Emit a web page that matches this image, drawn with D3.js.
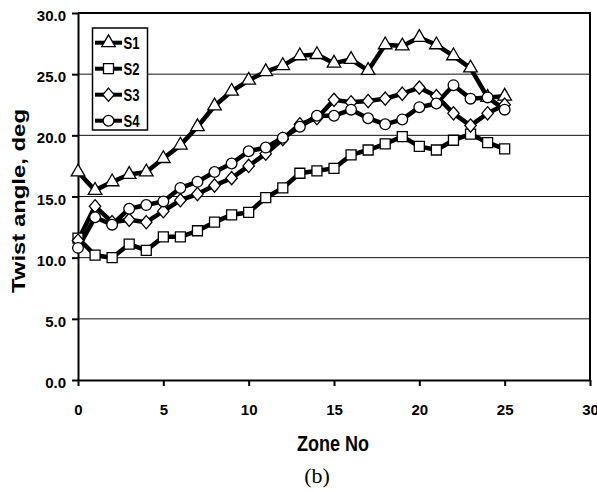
<!DOCTYPE html>
<html>
<head>
<meta charset="utf-8">
<script src="https://cdn.jsdelivr.net/npm/d3@7"></script>
<style>
  body { margin:0; background:#fff; }
  svg { display:block; font-family:"Liberation Sans", Arial, sans-serif; }
</style>
</head>
<body>
<svg id="chart" width="597" height="492"></svg>
<script>
// zone numbers along x
const zones = [0,1,2,3,4,5,6,7,8,9,10,11,12,13,14,15,16,17,18,19,20,21,22,23,24,25];
// twist angle per series (deg)
const s1 = [17.0,15.5,16.2,16.8,17.0,18.1,19.2,20.7,22.4,23.6,24.5,25.2,25.7,26.5,26.6,25.9,26.2,25.3,27.4,27.3,28.0,27.4,26.5,25.5,23.1,23.2];
const s2 = [11.6,10.2,10.0,11.1,10.6,11.7,11.7,12.2,12.9,13.5,13.7,14.9,15.7,16.9,17.1,17.3,18.4,18.8,19.3,19.9,19.1,18.8,19.6,20.1,19.4,18.9];
const s3 = [11.4,14.2,12.9,13.1,12.9,13.8,14.7,15.2,15.9,16.5,17.5,18.5,19.7,20.9,21.4,22.9,22.7,22.8,23.0,23.4,23.9,23.2,21.8,20.8,21.8,22.5];
const s4 = [10.8,13.3,12.7,14.0,14.3,14.6,15.7,16.2,17.0,17.7,18.7,19.0,19.8,20.7,21.6,21.6,22.1,21.4,20.9,21.3,22.3,22.6,24.1,23.0,23.1,22.1];
const seriesNames = ['S1','S2','S3','S4'];
const xTicks = [0,5,10,15,20,25,30];
const yTicks = [0,5,10,15,20,25,30];

// fatter diamond than d3's default
const fatDiamond = {
  draw(ctx, size) {
    const w = Math.sqrt(size) * 0.6, h = Math.sqrt(size) * 0.7;
    ctx.moveTo(0, -h); ctx.lineTo(w, 0); ctx.lineTo(0, h); ctx.lineTo(-w, 0); ctx.closePath();
  }
};

const series = [
  { name: seriesNames[0], values: s1, symbol: d3.symbolTriangle, size: 80 },
  { name: seriesNames[1], values: s2, symbol: d3.symbolSquare, size: 100 },
  { name: seriesNames[2], values: s3, symbol: fatDiamond, size: 90 },
  { name: seriesNames[3], values: s4, symbol: d3.symbolCircle, size: 90 }
];

const svg = d3.select('#chart');
const x = d3.scaleLinear().domain([0,30]).range([78,590]);
const y = d3.scaleLinear().domain([0,30]).range([380,13]);

// gridlines
svg.append('g').selectAll('line').data(yTicks.filter(d => d > 0 && d < 30)).join('line')
  .attr('x1', x(0)).attr('x2', x(30))
  .attr('y1', d => y(d)).attr('y2', d => y(d))
  .attr('stroke', '#111').attr('stroke-width', 1);

// plot border (top + right)
svg.append('path')
  .attr('d', `M${x(0)},${y(30)}H${x(30)}V${y(0)}`)
  .attr('fill', 'none').attr('stroke', '#000').attr('stroke-width', 2);

// axes
const xAxis = svg.append('g').attr('transform', `translate(0,${y(0)})`)
  .call(d3.axisBottom(x).tickValues(xTicks).tickSize(6).tickSizeOuter(0).tickPadding(18));
const yAxis = svg.append('g').attr('transform', `translate(${x(0)},0)`)
  .call(d3.axisLeft(y).tickValues(yTicks).tickSize(6).tickSizeOuter(0).tickPadding(6).tickFormat(d3.format('.1f')));
[xAxis, yAxis].forEach(a => {
  a.select('.domain').attr('stroke-width', 2);
  a.selectAll('.tick line').attr('stroke-width', 2);
  a.selectAll('text').attr('font-size', 15).attr('font-weight', 'bold')
    .attr('font-family', '"Liberation Sans", Arial, sans-serif').attr('fill', '#000');
});
yAxis.selectAll('text').attr('dy', null).attr('y', 7.5);

// series lines + markers
const line = d3.line().x((d, i) => x(zones[i])).y(d => y(d));
series.forEach(s => {
  svg.append('path').datum(s.values)
    .attr('d', line).attr('fill', 'none')
    .attr('stroke', '#000').attr('stroke-width', 4.5).attr('stroke-linejoin', 'round');
});
series.forEach(s => {
  svg.append('g').selectAll('path').data(s.values).join('path')
    .attr('d', d3.symbol(s.symbol, s.size))
    .attr('transform', (d, i) => `translate(${x(zones[i])},${y(d)})`)
    .attr('fill', '#fff').attr('stroke', '#000').attr('stroke-width', 1.3);
});

// legend
const lg = svg.append('g');
lg.append('rect').attr('x', 92.5).attr('y', 28).attr('width', 55).attr('height', 102)
  .attr('fill', '#fff').attr('stroke', '#000').attr('stroke-width', 1.5);
series.forEach((s, i) => {
  const ly = 42.7 + i * 26;
  lg.append('line').attr('x1', 95).attr('x2', 122).attr('y1', ly).attr('y2', ly)
    .attr('stroke', '#000').attr('stroke-width', 4);
  lg.append('path').attr('d', d3.symbol(s.symbol, s.size)())
    .attr('transform', `translate(108.5,${ly})`)
    .attr('fill', '#fff').attr('stroke', '#000').attr('stroke-width', 1.3);
  lg.append('text').attr('x', 123.5).attr('y', ly + 6)
    .attr('font-size', 16).attr('font-weight', 'bold')
    .attr('textLength', 16).attr('lengthAdjust', 'spacingAndGlyphs')
    .text(s.name);
});

// axis titles
svg.append('text').attr('x', 333).attr('y', 451).attr('text-anchor', 'middle')
  .attr('font-size', 22).attr('font-weight', 'bold')
  .attr('textLength', 72).attr('lengthAdjust', 'spacingAndGlyphs')
  .text('Zone No');
svg.append('text').attr('transform', 'translate(25,201) rotate(-90)')
  .attr('text-anchor', 'middle').attr('font-size', 17.5).attr('font-weight', 'bold')
  .attr('textLength', 184).attr('lengthAdjust', 'spacingAndGlyphs')
  .text('Twist angle, deg');
svg.append('text').attr('x', 317).attr('y', 483).attr('text-anchor', 'middle')
  .attr('font-family', '"Liberation Serif", "Times New Roman", serif').attr('font-size', 22)
  .text('(b)');
</script>
</body>
</html>
